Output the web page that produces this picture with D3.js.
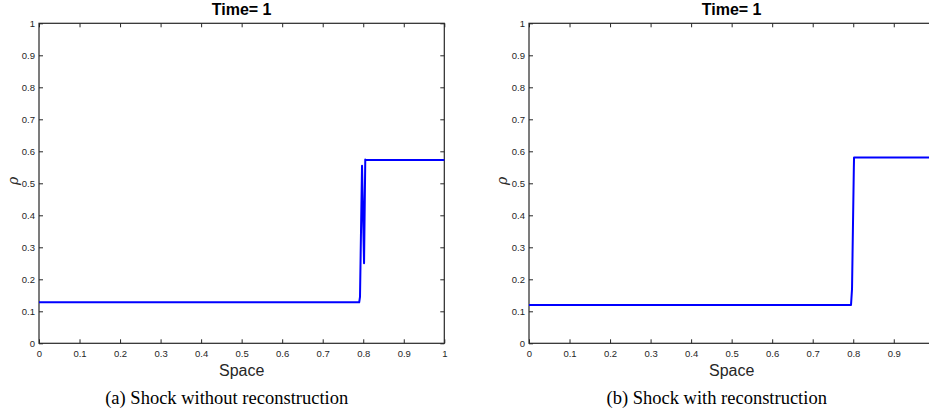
<!DOCTYPE html>
<html><head><meta charset="utf-8">
<script src="https://cdn.jsdelivr.net/npm/d3@7"></script>
<style>body{margin:0;background:#fff}svg{display:block}</style>
</head><body>
<svg id="c" width="929" height="417"></svg>
<script>
const xTicks = [0,0.1,0.2,0.3,0.4,0.5,0.6,0.7,0.8,0.9,1];
const yTicks = [0,0.1,0.2,0.3,0.4,0.5,0.6,0.7,0.8,0.9,1];
const titles = ["Time= 1","Time= 1"];
const captions = ["(a) Shock without reconstruction","(b) Shock with reconstruction"];
const spaceA = [0, 0.790, 0.792, 0.797, 0.802, 0.805, 0.807, 1];
const rhoA   = [0.128, 0.128, 0.145, 0.555, 0.25, 0.574, 0.573, 0.573];
const spaceB = [0, 0.7945, 0.797, 0.8015, 0.802, 1];
const rhoB   = [0.1195, 0.1195, 0.17, 0.55, 0.581, 0.581];

const W = 929;
const svg = d3.select("#c");
const axisCol = "#262626";
const panels = [
  {x0:39, x1:444.3, capX:226.7, ylx:14, xs:spaceA, ys:rhoA},
  {x0:529, x1:934.3, capX:716.7, ylx:503, xs:spaceB, ys:rhoB}
];
const yTop = 23.3, yBot = 343.3;

panels.forEach((p,i)=>{
  const x = d3.scaleLinear().domain([0,1]).range([p.x0,p.x1]);
  const y = d3.scaleLinear().domain([0,1]).range([yBot,yTop]);
  const g = svg.append("g");
  const fmt = d => d===0||d===1 ? String(d) : d3.format(".1f")(d);
  const fmtX = d => x(d) + 4 > W ? "" : fmt(d);
  const styleAx = sel => {
    sel.select(".domain").remove();
    sel.selectAll("line").attr("stroke",axisCol).attr("stroke-width",1);
    sel.selectAll("text").attr("fill",axisCol).attr("font-family","'Liberation Sans',Arial,sans-serif").attr("font-size","9.5px");
  };
  g.append("g").attr("transform",`translate(0,${yBot})`)
    .call(d3.axisBottom(x).tickValues(xTicks).tickFormat(fmtX).tickSize(-4).tickPadding(7)).call(styleAx);
  g.append("g").attr("transform",`translate(0,${yTop})`)
    .call(d3.axisTop(x).tickValues(xTicks).tickFormat("").tickSize(-4)).call(styleAx);
  g.append("g").attr("transform",`translate(${p.x0},0)`)
    .call(d3.axisLeft(y).tickValues(yTicks).tickFormat(fmt).tickSize(-4).tickPadding(4)).call(styleAx);
  g.append("g").attr("transform",`translate(${p.x1},0)`)
    .call(d3.axisRight(y).tickValues(yTicks).tickFormat("").tickSize(-4)).call(styleAx);
  g.append("rect").attr("x",p.x0).attr("y",yTop).attr("width",p.x1-p.x0).attr("height",yBot-yTop)
    .attr("fill","none").attr("stroke",axisCol).attr("stroke-width",1.2);
  const pts = p.xs.map((v,k)=>[v,p.ys[k]]);
  g.append("path").datum(pts)
    .attr("d", d3.line().x(d=>x(d[0])).y(d=>y(d[1])))
    .attr("fill","none").attr("stroke","#0000ff").attr("stroke-width",2).attr("stroke-linejoin","round");
  const cx = (p.x0+p.x1)/2;
  g.append("text").attr("x",cx).attr("y",15).attr("text-anchor","middle")
    .attr("font-family","'Liberation Sans',Arial,sans-serif").attr("font-weight","bold").attr("font-size","16px").text(titles[i]);
  g.append("text").attr("x",cx).attr("y",376).attr("text-anchor","middle").attr("fill",axisCol)
    .attr("font-family","'Liberation Sans',Arial,sans-serif").attr("font-size","16px").text("Space");
  g.append("text").attr("transform",`translate(${p.ylx+4},${181}) rotate(-90)`).attr("text-anchor","middle")
    .attr("fill",axisCol).attr("font-family","'DejaVu Serif','Liberation Serif',serif").attr("font-style","italic").attr("font-size","14px").text("ρ");
  g.append("text").attr("x",p.capX).attr("y",404).attr("text-anchor","middle")
    .attr("font-family","'Liberation Serif','Times New Roman',serif").attr("font-size","18.5px").text(captions[i]);
});
</script>
</body></html>
